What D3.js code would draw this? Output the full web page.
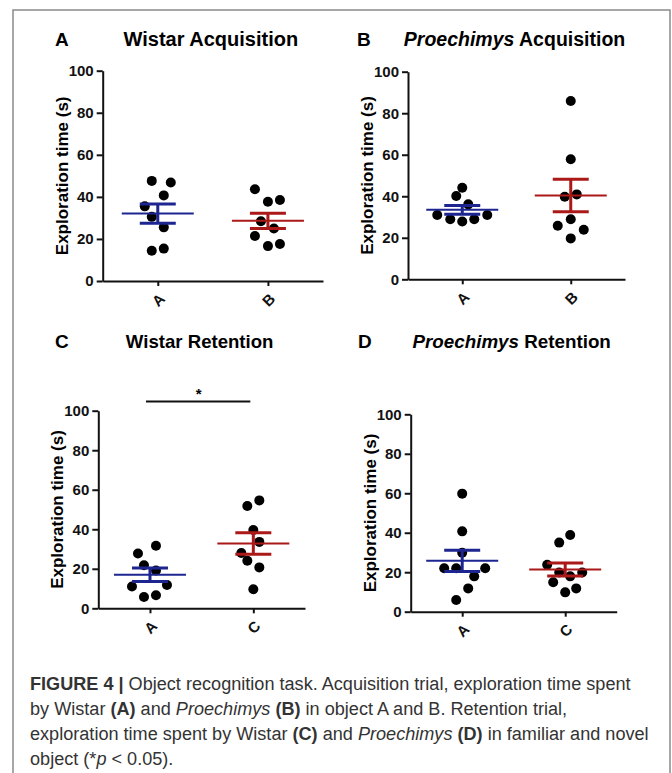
<!DOCTYPE html>
<html>
<head>
<meta charset="utf-8">
<script src="https://cdn.jsdelivr.net/npm/d3@7"></script>
<style>
  body { margin: 0; background: #fff; }
  svg { display: block; }
  .axis path, .axis line { stroke: #111; stroke-width: 2; }
  .axis text { font: bold 15px "Liberation Sans", Arial, sans-serif; fill: #111; }
</style>
</head>
<body>
<svg id="fig" width="672" height="773"></svg>
<script>
  // ---- data (exploration time, s) ----
  var panelLetters = ["A", "B", "C", "D"];
  var titleSpecies = ["Wistar", "Proechimys", "Wistar", "Proechimys"];
  var titleTrial = ["Acquisition", "Acquisition", "Retention", "Retention"];
  var categories = [["A", "B"], ["A", "B"], ["A", "C"], ["A", "C"]];
  var yTicks = [0, 20, 40, 60, 80, 100];

  var wistarAcqA = [47.6, 46.8, 40.7, 35.5, 30.5, 25.5, 15.4, 14.4];
  var wistarAcqB = [43.6, 38.5, 37.7, 28.4, 25.0, 21.4, 17.6, 16.6];
  var proAcqA = [44.1, 40.1, 36.1, 31.0, 31.0, 28.9, 28.9, 27.8];
  var proAcqB = [85.9, 57.8, 40.9, 39.8, 28.9, 25.8, 23.9, 19.7];
  var wistarRetA = [31.7, 27.7, 21.8, 19.1, 11.8, 11.0, 6.6, 5.7];
  var wistarRetC = [54.6, 51.8, 39.6, 33.6, 28.0, 24.1, 20.7, 9.6];
  var proRetA = [59.8, 40.7, 29.9, 22.0, 22.0, 22.0, 17.9, 11.8, 5.9];
  var proRetC = [38.9, 35.0, 23.8, 19.9, 19.9, 17.9, 14.9, 11.8, 9.8];

  // significance bracket (panel C, A vs C)
  var sigPanel = 2, sigLabel = "*";

  // ---- layout (not data) ----
  // horizontal spread of the scatter dots, in dot radii
  var spread = [
    [[-1.2, 2.6, 1.2, -2.6, -1.2, 1.2, 1.2, -1.2], [-2.6, 2.4, 0, -1.4, 1.2, -2.6, 2.4, 0]],
    [[0, -1.2, 1.2, -5, 5, -2.4, 2.4, 0], [0, 0, 1.2, -1.2, 0, -2.6, 2.6, 0]],
    [[1.2, -2.4, -1.2, 1.2, 3.4, -3.6, 1.2, -1.2], [1.2, -1.2, 0, 1.2, -2.4, -1.2, 1.2, 0]],
    [[0, 0, 0, -3.6, -1.2, 4.6, 2.4, 1.2, -1.2], [1, -1.2, -3.6, -1.2, 3.4, 1, -2.4, 2.2, 0]]
  ];
  var series = [[wistarAcqA, wistarAcqB], [proAcqA, proAcqB], [wistarRetA, wistarRetC], [proRetA, proRetC]];
  var colors = ["#1c2590", "#ab1818"];

  var boxes = [
    {left: 102.7, right: 323, top: 70.7, bottom: 281, letterX: 55, titleY: 46, titleSize: 20},
    {left: 408, right: 625, top: 71.7, bottom: 279.3, letterX: 357, titleY: 46, titleSize: 19.5},
    {left: 98.3, right: 305, top: 410.7, bottom: 608.3, letterX: 55, titleY: 348, titleSize: 18.6},
    {left: 410.7, right: 616.7, top: 414.3, bottom: 611.7, letterX: 358, titleY: 348, titleSize: 18.8}
  ];
  var dotR = 5;
  var font = '"Liberation Sans", Arial, sans-serif';

  var svg = d3.select("#fig");

  // frame around figure + caption
  svg.append("path")
    .attr("d", "M13,773V10H670V773")
    .attr("fill", "none")
    .attr("stroke", "#8a8a8a")
    .attr("stroke-width", 1.5);

  boxes.forEach(function(b, p) {
    var g = svg.append("g");

    var x = d3.scalePoint().domain(categories[p]).range([b.left, b.right]).padding(0.5);
    var y = d3.scaleLinear().domain([0, 100]).range([b.bottom, b.top]);

    // panel letter + title
    g.append("text")
      .attr("x", b.letterX).attr("y", b.titleY)
      .style("font", "bold 19px " + font)
      .text(panelLetters[p]);

    var title = g.append("text")
      .attr("x", (b.left + b.right) / 2 - 2).attr("y", b.titleY)
      .attr("text-anchor", "middle")
      .style("font", "bold " + b.titleSize + "px " + font);
    title.append("tspan")
      .style("font-style", titleSpecies[p] === "Proechimys" ? "italic" : "normal")
      .text(titleSpecies[p]);
    title.append("tspan").text(" " + titleTrial[p]);

    // axes
    g.append("g")
      .attr("class", "axis")
      .attr("transform", "translate(" + b.left + ",0)")
      .call(d3.axisLeft(y).tickValues(yTicks).tickSize(6).tickSizeOuter(0).tickPadding(3));

    var xa = g.append("g")
      .attr("class", "axis")
      .attr("transform", "translate(0," + b.bottom + ")")
      .call(d3.axisBottom(x).tickSize(5).tickSizeOuter(0));
    xa.selectAll(".tick text")
      .attr("text-anchor", "end")
      .attr("dy", "0.35em")
      .attr("transform", "translate(4,15) rotate(-45)")
      .attr("y", 0).attr("x", 0);

    // y axis title
    g.append("text")
      .attr("transform", "translate(" + (b.left - 41) + "," + ((b.top + b.bottom) / 2) + ") rotate(-90)")
      .attr("text-anchor", "middle")
      .attr("dy", "0.35em")
      .style("font", "bold 17px " + font)
      .text("Exploration time (s)");

    // dots, then mean line + SEM bars on top
    series[p].forEach(function(vals, c) {
      var cx = x(categories[p][c]);
      g.selectAll(null)
        .data(vals)
        .enter()
          .append("circle")
          .attr("cx", function(d, i) { return cx + spread[p][c][i] * dotR; })
          .attr("cy", function(d) { return y(d); })
          .attr("r", dotR)
          .attr("fill", "#000");

      var m = d3.mean(vals);
      var sem = d3.deviation(vals) / Math.sqrt(vals.length);
      var col = colors[c];

      g.append("line")
        .attr("x1", cx - 36).attr("x2", cx + 36)
        .attr("y1", y(m)).attr("y2", y(m))
        .attr("stroke", col).attr("stroke-width", 2);
      g.append("line")
        .attr("x1", cx).attr("x2", cx)
        .attr("y1", y(m + sem)).attr("y2", y(m - sem))
        .attr("stroke", col).attr("stroke-width", 3);
      [m + sem, m - sem].forEach(function(v) {
        g.append("line")
          .attr("x1", cx - 18).attr("x2", cx + 18)
          .attr("y1", y(v)).attr("y2", y(v))
          .attr("stroke", col).attr("stroke-width", 3);
      });
    });

    // significance bar
    if (p === sigPanel) {
      var c0 = categories[p];
      g.append("line")
        .attr("x1", x(c0[0]) - 4).attr("x2", x(c0[1]) - 3)
        .attr("y1", y(104.6)).attr("y2", y(104.6))
        .attr("stroke", "#111").attr("stroke-width", 2);
      g.append("text")
        .attr("x", (x(c0[0]) + x(c0[1])) / 2 - 3)
        .attr("y", y(104.6) - 3)
        .attr("text-anchor", "middle")
        .style("font", "bold 15px " + font)
        .text(sigLabel);
    }
  });

  // ---- caption ----
  var captionLines = [
    [["FIGURE 4 |", "b"], [" Object recognition task. Acquisition trial, exploration time spent", ""]],
    [["by Wistar ", ""], ["(A)", "b"], [" and ", ""], ["Proechimys", "i"], [" ", ""], ["(B)", "b"],
     [" in object A and B. Retention trial,", ""]],
    [["exploration time spent by Wistar ", ""], ["(C)", "b"], [" and ", ""], ["Proechimys", "i"], [" ", ""],
     ["(D)", "b"], [" in familiar and novel", ""]],
    [["object (*", ""], ["p", "i"], [" < 0.05).", ""]]
  ];
  var capX = 30, capY = [690, 715, 740, 765], capWidth = 601;

  var cap = svg.append("g");
  var capTexts = captionLines.map(function(parts, i) {
    var t = cap.append("text")
      .attr("x", 0).attr("y", capY[i])
      .style("font", '19px "Liberation Sans Narrow", "Liberation Sans", Arial, sans-serif')
      .attr("fill", "#333");
    parts.forEach(function(pt) {
      t.append("tspan")
        .style("font-weight", pt[1] === "b" ? "bold" : "normal")
        .style("font-style", pt[1] === "i" ? "italic" : "normal")
        .text(pt[0]);
    });
    return t;
  });
  // squeeze horizontally to the condensed width of the original caption
  var w = capTexts[0].node().getComputedTextLength();
  cap.attr("transform", "translate(" + capX + ",0) scale(" + (capWidth / w) + ",1)");
</script>
</body>
</html>
